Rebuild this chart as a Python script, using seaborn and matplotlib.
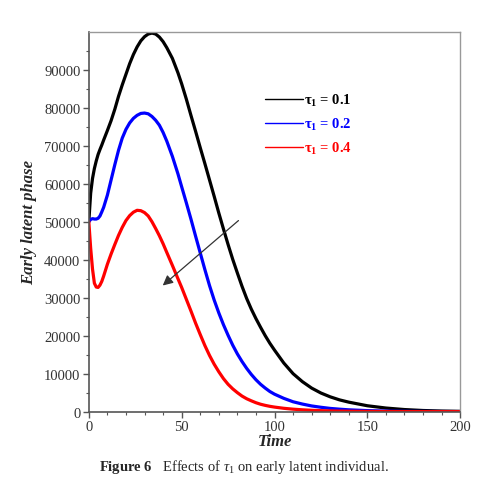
import matplotlib.pyplot as plt
import pandas as pd
import seaborn as sns
from matplotlib.lines import Line2D
from matplotlib.ticker import MultipleLocator

sns.set_theme(style="white")
plt.rcParams["font.family"] = ["Liberation Serif", "DejaVu Serif"]
plt.rcParams["mathtext.fontset"] = "custom"
plt.rcParams["mathtext.rm"] = "Liberation Serif"
plt.rcParams["mathtext.it"] = "Liberation Serif:italic"
plt.rcParams["mathtext.bf"] = "Liberation Serif:bold"

# values
time = [0, 1, 2, 3, 4, 5, 6, 7, 8, 10, 12, 14, 16, 18, 20, 22, 24, 26, 28, 30,
        32, 34, 36, 38, 40, 42, 45, 48, 50, 52.5, 55, 57.5, 60, 62.5, 65, 67.5,
        70, 72.5, 75, 77.5, 80, 82.5, 85, 87.5, 90, 92.5, 95, 97.5, 100, 105,
        110, 115, 120, 125, 130, 135, 140, 150, 160, 170, 180, 190, 200]

tau_01 = [50000, 57500, 61400, 64000, 66000, 67700, 69000, 70200, 71500, 74000,
          76600, 79600, 83000, 86000, 88800, 91600, 94000, 96000, 97600, 98700,
          99400, 99650, 99400, 98600, 97400, 95800, 93000, 89200, 86300, 82300,
          78000, 73800, 69500, 65300, 61000, 56700, 52300, 48100, 44000, 40100,
          36500, 33000, 29800, 27000, 24500, 22200, 20000, 18000, 16200, 12800,
          10000, 7900, 6200, 4900, 3900, 3100, 2500, 1550, 950, 550, 300, 160, 80]

tau_02 = [50000, 50600, 50800, 50700, 50700, 50900, 51500, 52600, 53800, 57000,
          61000, 65000, 68800, 72000, 74300, 76000, 77200, 78000, 78500, 78600,
          78400, 77700, 76700, 75400, 73500, 71200, 67200, 62600, 59200, 55000,
          50700, 46200, 41800, 37400, 33200, 29400, 26000, 22900, 20100, 17500,
          15200, 13200, 11400, 9800, 8400, 7200, 6200, 5300, 4600, 3500,
          2600, 2000, 1500, 1150, 850, 650, 480, 270, 150, 85, 50, 30, 20]

tau_04 = [50000, 43000, 37500, 33800, 32800, 32700, 33300, 34300, 35700, 38800,
          41500, 44000, 46400, 48500, 50300, 51600, 52500, 53000, 52900, 52400,
          51500, 50000, 48200, 46300, 44200, 41900, 38500, 35000, 32700, 29600,
          26500, 23300, 20300, 17400, 14800, 12500, 10500, 8700, 7200, 6000,
          5000, 4100, 3400, 2850, 2350, 1950, 1650, 1400, 1200, 880,
          650, 480, 350, 260, 190, 140, 100, 55, 30, 15, 10, 6, 5]

labels = [r"$\mathbf{\tau_1}$ = 0.1", r"$\mathbf{\tau_1}$ = 0.2", r"$\mathbf{\tau_1}$ = 0.4"]
colors = ["black", "#0000ff", "#ff0000"]

df = pd.DataFrame({
    "Time": time * 3,
    "value": tau_01 + tau_02 + tau_04,
    "tau": [labels[0]] * len(time) + [labels[1]] * len(time) + [labels[2]] * len(time),
})

fig = plt.figure(figsize=(4.88, 5.02), dpi=100)
ax = fig.add_axes([0.182, 0.178, 0.761, 0.756])

sns.lineplot(data=df, x="Time", y="value", hue="tau", palette=dict(zip(labels, colors)),
             linewidth=2.3, legend=False, ax=ax)

ax.set_xlim(0, 200)
ax.set_ylim(0, 99900)
ax.xaxis.set_major_locator(MultipleLocator(50))
ax.xaxis.set_minor_locator(MultipleLocator(10))
ax.yaxis.set_major_locator(MultipleLocator(10000))
ax.yaxis.set_minor_locator(MultipleLocator(5000))
ax.tick_params(which="major", direction="out", length=4, width=1, color="#555555",
               labelsize=10.5, labelcolor="#333333", pad=2, bottom=True, left=True)
ax.tick_params(which="minor", direction="out", length=2.5, width=0.8, color="#555555",
               bottom=True, left=True)

for side in ["left", "bottom"]:
    ax.spines[side].set_color("#555555")
    ax.spines[side].set_linewidth(1.2)
for side in ["top", "right"]:
    ax.spines[side].set_color("#999999")
    ax.spines[side].set_linewidth(1.0)

ax.set_xlabel("Time", fontsize=12, fontweight="bold", fontstyle="italic", labelpad=0)
ax.set_ylabel("Early latent phase", fontsize=12, fontweight="bold", fontstyle="italic")
ax.yaxis.set_label_coords(-0.138, 0.5)

# arrow showing the direction of increasing tau_1
ax.annotate("", xy=(39.8, 33200), xytext=(80.6, 50300),
            arrowprops=dict(arrowstyle="-|>", color="#333333", lw=0.9,
                            mutation_scale=15, shrinkA=0, shrinkB=0))

handles = [Line2D([0], [0], color=c, lw=1.0) for c in colors]
leg = ax.legend(handles, labels, loc="upper left", bbox_to_anchor=(0.438, 0.877),
                frameon=False, handlelength=2.6, handletextpad=0.1,
                labelspacing=0.55, prop={"size": 10.5, "weight": "bold"})
for text, c in zip(leg.get_texts(), colors):
    text.set_color(c)

fig.text(0.5, 0.07, r"$\mathbf{Figure\ 6}$   Effects of $\tau_1$ on early latent individual.",
         ha="center", va="center", fontsize=10.5)

fig.savefig("out.png", dpi=100)
